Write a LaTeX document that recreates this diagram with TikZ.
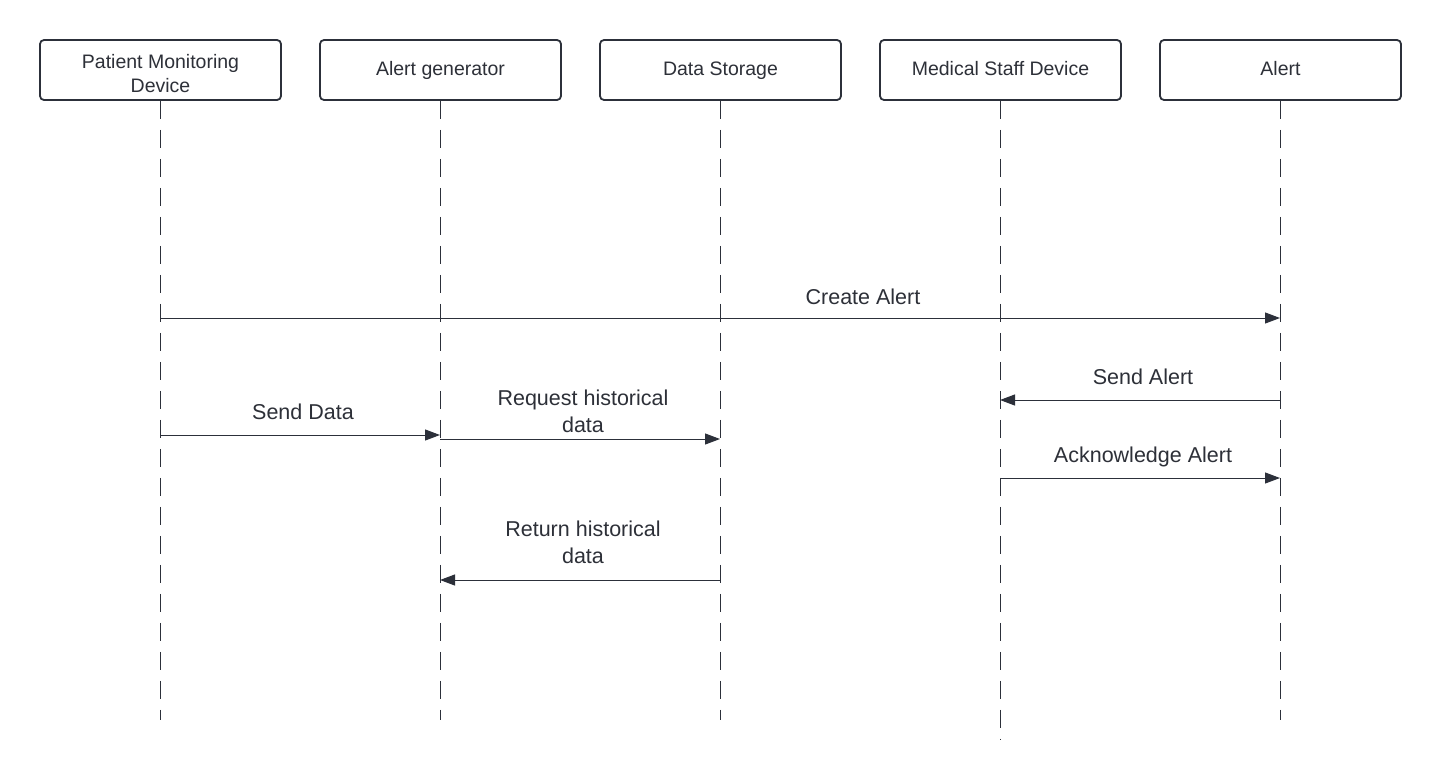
\documentclass[tikz,border=0pt]{standalone}
\usepackage{fontspec}
\setmainfont{Liberation Sans}
\usetikzlibrary{arrows.meta}
\definecolor{ink}{RGB}{44,48,58}
\definecolor{txt}{RGB}{45,48,56}
\tikzset{
  actor/.style={draw=ink, line width=1.8pt, rounded corners=4pt, minimum width=241pt, minimum height=60pt, inner sep=0pt, align=center, text=txt, font=\fontsize{19.5}{24}\selectfont},
  oneline/.style={text height=14pt, text depth=4pt},
  lifeline/.style={draw=ink, line width=1pt, dash pattern=on 18pt off 11pt},
  msg/.style={draw=ink, line width=1pt, -{Triangle[length=15pt,width=11pt]}},
  lbl/.style={text=txt, align=center, inner sep=0pt, font=\fontsize{21.5}{27}\selectfont},
}
\begin{document}
\begin{tikzpicture}[x=1pt,y=-1pt]
\useasboundingbox (0,0) rectangle (1441,779);
\fill[white] (0,0) rectangle (1441,779);
% actors
\node[actor] (pmd) at (160.5,70) {\raisebox{-11pt}[0pt][0pt]{\begin{tabular}{@{}c@{}}Patient Monitoring\\Device\end{tabular}}};
\node[actor, oneline] (ag)  at (440.5,70) {Alert generator};
\node[actor, oneline] (ds)  at (720.5,70) {Data Storage};
\node[actor, oneline] (msd) at (1000.5,70) {Medical Staff Device};
\node[actor, oneline] (al)  at (1280.5,70) {Alert};
% lifeline ends
\coordinate (pmdE) at (160,720);
\coordinate (agE)  at (440,720);
\coordinate (dsE)  at (720,720);
\coordinate (msdE) at (1000,740);
\coordinate (alE)  at (1280,720);
\draw[lifeline] (pmd.south -| pmdE) -- (pmdE);
\draw[lifeline] (ag.south -| agE) -- (agE);
\draw[lifeline] (ds.south -| dsE) -- (dsE);
\draw[lifeline] (msd.south -| msdE) -- (msdE);
\draw[lifeline] (al.south -| alE) -- (alE);
% message end points
\coordinate (c1a) at (160,318); \coordinate (c1b) at (1280,318);
\coordinate (c2a) at (1280,400); \coordinate (c2b) at (1000,400);
\coordinate (c3a) at (160,435); \coordinate (c3b) at (440,435);
\coordinate (c4a) at (440,439); \coordinate (c4b) at (720,439);
\coordinate (c5a) at (1000,478); \coordinate (c5b) at (1280,478);
\coordinate (c6a) at (720,580); \coordinate (c6b) at (440,580);
\draw[msg] (c1a) -- (c1b);
\draw[msg] (c2a) -- (c2b);
\draw[msg] (c3a) -- (c3b);
\draw[msg] (c4a) -- (c4b);
\draw[msg] (c5a) -- (c5b);
\draw[msg] (c6a) -- (c6b);
% labels
\node[lbl] (l1) at (863,297) {Create Alert};
\node[lbl] (l2) at (1143,377) {Send Alert};
\node[lbl] (l3) at (303,412) {Send Data};
\node[lbl] (l4) at (583,411.5) {Request historical\\data};
\node[lbl] (l5) at (1143,457) {Acknowledge Alert};
\node[lbl] (l6) at (583,542.5) {Return historical\\data};
\end{tikzpicture}
\end{document}
